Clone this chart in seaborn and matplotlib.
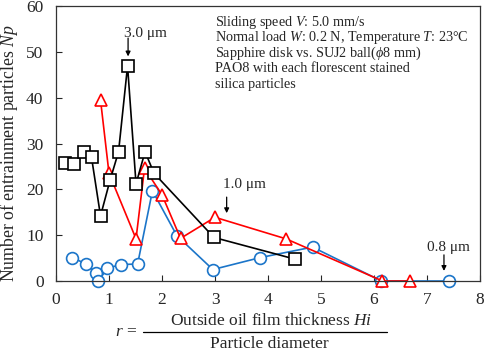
import numpy as np
import pandas as pd
import matplotlib
matplotlib.use("Agg")
import matplotlib.pyplot as plt
import seaborn as sns
from matplotlib.lines import Line2D

# Data
sq_r = [0.17, 0.34, 0.52, 0.67, 0.84, 1.02, 1.18, 1.35, 1.51, 1.68, 1.85, 2.98, 4.50]
sq_np = [25.8, 25.5, 28.2, 27.0, 14.2, 22.0, 28.2, 46.9, 21.2, 28.2, 23.5, 9.5, 4.8]

tri_r = [0.84, 1.00, 1.51, 1.67, 2.00, 2.35, 3.00, 4.34, 6.16, 6.68]
tri_np = [39.5, 23.5, 9.2, 24.6, 18.8, 9.3, 13.9, 9.2, 0.0, 0.0]

cir_r = [0.31, 0.57, 0.75, 0.80, 0.97, 1.23, 1.54, 1.82, 2.28, 2.96, 3.85, 4.84, 6.14, 7.42]
cir_np = [5.1, 3.7, 1.8, 0.0, 2.8, 3.6, 3.7, 19.7, 9.9, 2.5, 5.1, 7.4, 0.0, 0.0]

note_lines = ['Sliding speed $V$: 5.0 mm/s',
              'Normal load $W$: 0.2 N, Temperature $T$: 23\u00b0C',
              'Sapphire disk vs. SUJ2 ball($\\phi$8 mm)',
              'PAO8 with each florescent stained',
              'silica particles']

sns.set_style("ticks")
plt.rcParams['font.family'] = ['Liberation Serif', 'DejaVu Serif']
plt.rcParams['mathtext.fontset'] = 'custom'
plt.rcParams['mathtext.rm'] = 'Liberation Serif'
plt.rcParams['mathtext.it'] = 'Liberation Serif:italic'

W, H = 484, 351
fig = plt.figure(figsize=(W / 100, H / 100), dpi=100)
ax = fig.add_axes([56 / W, 1 - 281 / H, 424 / W, 275 / H])

series = [
    (cir_r, cir_np, '#1B75C9', 'o', 8.5),
    (tri_r, tri_np, '#FF0000', '^', 8.5),
    (sq_r, sq_np, 'black', 's', 9),
]
for xs, ys, col, mk, ms in series:
    df = pd.DataFrame({'r': xs, 'Np': ys})
    sns.lineplot(data=df, x='r', y='Np', sort=False, estimator=None, ax=ax,
                 color=col, marker=mk, markersize=ms, markerfacecolor='white',
                 markeredgecolor=col, markeredgewidth=1.2, linewidth=1.2,
                 clip_on=False)

ax.set_xlim(0, 8)
ax.set_ylim(0, 60)
ax.set_xticks(range(0, 9))
ax.set_yticks(range(0, 61, 10))
ax.tick_params(direction='in', length=4, labelsize=12.5, width=0.8)
ax.tick_params(axis='x', pad=8)
ax.tick_params(axis='y', pad=9)
for s in ax.spines.values():
    s.set_color('#333333')
    s.set_linewidth(0.9)
ax.set_xlabel('')
ax.set_ylabel('')

# y label
fig.text(9.5 / W, 1 - 153 / H, 'Number of entrainment particles $Np$',
         fontsize=12.8, rotation=90, ha='center', va='center')

# notes, one line at a time
for i, line in enumerate(note_lines):
    fig.text(215 / W, 1 - (26 + 15.5 * i) / H, line, fontsize=10.2,
             ha='left', va='baseline')

# size labels with arrows
labels = [(1.28, 54.1, 1.36, 53.0, 49.0, '3.0 \u03bcm'),
          (3.15, 21.0, 3.22, 18.3, 14.8, '1.0 \u03bcm'),
          (7.00, 7.4, 7.32, 5.7, 2.2, '0.8 \u03bcm')]
for tx, ty, axp, y0, y1, s in labels:
    ax.text(tx, ty, s, fontsize=11, ha='left', va='center')
    ax.annotate('', xy=(axp, y1), xytext=(axp, y0),
                arrowprops=dict(arrowstyle='-|>', color='black', lw=0.9,
                                mutation_scale=7, shrinkA=0, shrinkB=0))

# x label as a fraction
fig.text(126 / W, 1 - 332 / H, '$r$ =', fontsize=12.5, ha='center', va='center')
fig.text(271 / W, 1 - 321 / H, 'Outside oil film thickness $Hi$',
         fontsize=12.5, ha='center', va='center')
fig.text(269 / W, 1 - 344 / H, 'Particle diameter',
         fontsize=12.5, ha='center', va='center')
fig.add_artist(Line2D([143 / W, 387 / W], [1 - 332 / H, 1 - 332 / H],
                      color='black', lw=0.9, transform=fig.transFigure))

fig.savefig('out.png', dpi=100)
